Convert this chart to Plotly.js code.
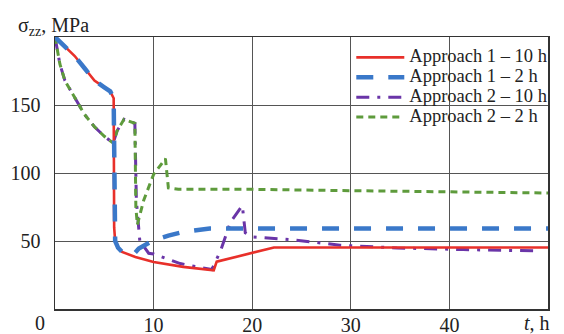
<!DOCTYPE html>
<html>
<head>
<meta charset="utf-8">
<script src="https://cdn.plot.ly/plotly-3.0.1.min.js"></script>
<style>html,body{margin:0;padding:0;background:#fff;}#chart{width:564px;height:334px;}</style>
</head>
<body>
<div id="chart"></div>
<script>
// ---- data ----
var seriesNames = ["Approach 1 \u2013 10 h", "Approach 1 \u2013 2 h", "Approach 2 \u2013 10 h", "Approach 2 \u2013 2 h"];

var a1_10h_t = [0, 1, 2, 3, 4, 5, 5.6, 5.95, 6.0, 6.1, 6.4, 6.8, 7.5, 8.15, 10, 13, 16.1, 16.4, 22.2, 50];
var a1_10h_s = [200, 193, 186, 177, 168, 163, 160, 155, 60, 50, 45, 42, 40, 38.3, 34.5, 31, 28.5, 34.8, 45.2, 45.2];

var a1_2h_t = [0, 1, 2, 3, 4, 5, 5.6, 5.95, 6.0, 6.1, 6.4, 6.8, 7.5, 8.0, 8.5, 9.2, 10, 11.5, 13, 15.7, 50];
var a1_2h_s = [200, 193, 186, 177, 168, 163, 160, 155, 60, 50, 45, 42, 40, 40.5, 44.5, 47, 50.5, 54, 56.7, 59.2, 59.2];

var a2_10h_t = [0, 0.5, 1, 2, 3, 4, 5, 5.9, 6.3, 7.0, 8.1, 8.25, 8.6, 9.5, 10, 12.7, 14.7, 15.9, 16.8, 17.8, 19, 19.3, 20, 22, 24.5, 28.9, 34.7, 41.4, 49];
var a2_10h_s = [200, 180, 168, 155, 143, 134, 127, 122, 131, 139.5, 136.5, 80, 50, 41, 40.5, 33.4, 30.9, 29, 43, 64, 76, 56, 53, 52, 50.6, 46.9, 44.9, 43.7, 42.7];

var a2_2h_t = [0, 0.5, 1, 2, 3, 4, 5, 5.9, 6.3, 7.0, 8.1, 8.2, 8.35, 9, 10, 11.2, 11.5, 12.5, 20, 30, 40, 50];
var a2_2h_s = [200, 180, 168, 155, 143, 134, 127, 122, 131, 139.5, 136.5, 75, 62, 80, 99, 110.5, 89, 88, 88, 87, 86, 85.3];

var xTickVals = [10, 20, 30, 40];
var xTickText = ["10", "20", "30", "40"];
var yTickVals = [50, 100, 150];
var yTickText = ["50", "100", "150"];
var xOriginLabel = "0";
var xAxisLabel = "<i>t</i>, h";
var yAxisLabel = "\u03c3<sub>zz</sub>, MPa";

// ---- styling ----
var serif = "Liberation Serif, Times New Roman, serif";
function leg(s){ return '<span style="font-size:18.5px">' + s + '</span>'; }

var traces = [
  {x: a2_10h_t, y: a2_10h_s, name: leg(seriesNames[2]), mode: "lines", legendrank: 3,
   line: {color: "#6a35a8", width: 3, dash: "13px,8px,3px,8px"}},
  {x: a2_2h_t, y: a2_2h_s, name: leg(seriesNames[3]), mode: "lines", legendrank: 4,
   line: {color: "#5e9b3c", width: 3, dash: "7px,5px"}},
  {x: a1_10h_t, y: a1_10h_s, name: leg(seriesNames[0]), mode: "lines", legendrank: 1,
   line: {color: "#e8302a", width: 2.6}},
  {x: a1_2h_t, y: a1_2h_s, name: leg(seriesNames[1]), mode: "lines", legendrank: 2,
   line: {color: "#3a78c9", width: 4.5, dash: "17px,15px"}}
];

var layout = {
  width: 564, height: 334,
  margin: {l: 55, r: 16, t: 37, b: 25, pad: 0},
  paper_bgcolor: "#fff", plot_bgcolor: "rgba(0,0,0,0)",
  font: {family: serif, size: 20, color: "#222"},
  showlegend: true,
  legend: {
    x: 0.601, y: 0.98, xanchor: "left", yanchor: "top",
    bgcolor: "rgba(0,0,0,0)", borderwidth: 0,
    font: {family: serif, size: 13, color: "#222"},
    itemwidth: 48, traceorder: "normal",
    itemclick: false
  },
  title: {text: yAxisLabel, x: 18/564, xanchor: "left", xref: "container",
          y: 1 - 25/334, yanchor: "middle", yref: "container",
          font: {family: serif, size: 20, color: "#222"}},
  xaxis: {
    range: [0, 50], tickvals: xTickVals, ticktext: xTickText,
    showgrid: true, gridcolor: "#555", gridwidth: 1,
    showline: true, mirror: true, linecolor: "#333", linewidth: 1.5,
    ticks: "", zeroline: false, ticklabelstandoff: -3,
    tickfont: {family: serif, size: 20, color: "#222"}
  },
  yaxis: {
    range: [0, 200], tickvals: yTickVals, ticktext: yTickText,
    showgrid: true, gridcolor: "#555", gridwidth: 1,
    showline: true, mirror: true, linecolor: "#333", linewidth: 1.5,
    ticks: "", zeroline: false, ticklabelstandoff: 9,
    tickfont: {family: serif, size: 20, color: "#222"}
  },
  shapes: [
    {type: "rect", layer: "below", xref: "x domain", yref: "y domain",
     x0: 0.602, x1: 1, y0: 0.676, y1: 1, fillcolor: "#fff", line: {width: 0}}
  ],
  annotations: [
    {text: xOriginLabel, xref: "x", x: 0, yref: "paper", y: 0, xanchor: "center", yanchor: "top",
     xshift: -15, yshift: -1, showarrow: false, font: {family: serif, size: 20, color: "#222"}},
    {text: xAxisLabel, xref: "x", x: 50, yref: "paper", y: 0, xanchor: "right", yanchor: "top",
     xshift: 4, yshift: -1, showarrow: false, font: {family: serif, size: 20, color: "#222"}}
  ]
};

Plotly.newPlot("chart", traces, layout, {displayModeBar: false, staticPlot: true});
</script>
</body>
</html>
